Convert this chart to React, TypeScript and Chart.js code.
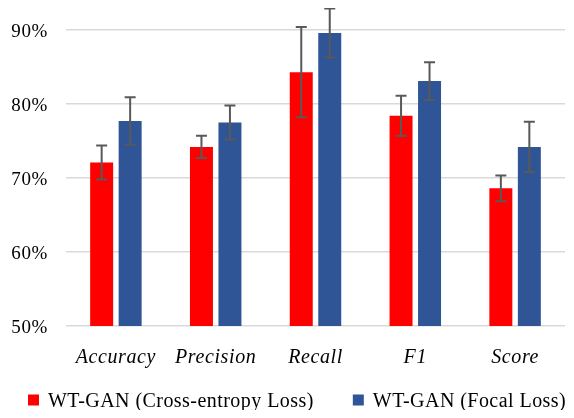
import React, { useEffect, useRef } from "react";
import { Chart, registerables } from "chart.js";

Chart.register(...registerables);

const categories = ["Accuracy", "Precision", "Recall", "F1", "Score"];
const crossEntropy = [72.1, 74.2, 84.3, 78.4, 68.6];
const crossEntropyErr = [2.3, 1.5, 6.1, 2.7, 1.75];
const focal = [77.7, 77.5, 89.6, 83.1, 74.2];
const focalErr = [3.2, 2.3, 3.3, 2.55, 3.4];
const seriesNames = ["WT-GAN (Cross-entropy Loss)", "WT-GAN (Focal Loss)"];
const yTicks = [50, 60, 70, 80, 90];

const errors = [crossEntropyErr, focalErr];
const FAMILY = "'Liberation Serif', 'Times New Roman', serif";
const SPACING = "0.6px";

const spacingPlugin = {
  id: "letterSpacing",
  beforeUpdate(chart: any) {
    chart.ctx.letterSpacing = SPACING;
  },
  beforeLayout(chart: any) {
    chart.ctx.letterSpacing = SPACING;
  },
  beforeDraw(chart: any) {
    chart.ctx.letterSpacing = SPACING;
  },
};

const legendPlugin = {
  id: "bottomLegend",
  afterDraw(chart: any) {
    const ctx = chart.ctx;
    ctx.save();
    ctx.letterSpacing = "0.45px";
    ctx.font = `20px ${FAMILY}`;
    ctx.textBaseline = "middle";
    ctx.textAlign = "left";
    const box = 11;
    const gapText = 9;
    const gapItem = 39;
    let x = 20;
    const y = 393;
    chart.data.datasets.forEach((ds: any) => {
      const w = ctx.measureText(ds.label).width;
      ctx.fillStyle = ds.backgroundColor;
      ctx.fillRect(x, y - box / 2 - 1, box, box);
      x += box + gapText;
      ctx.fillStyle = "#000";
      ctx.fillText(ds.label, x, y + 1);
      x += w + gapItem;
    });
    ctx.restore();
  },
};

const errorBarPlugin = {
  id: "errorBars",
  afterDatasetsDraw(chart: any) {
    const ctx = chart.ctx;
    const yScale = chart.scales.y;
    ctx.save();
    ctx.strokeStyle = "#595959";
    ctx.lineWidth = 2;
    chart.data.datasets.forEach((ds: any, di: number) => {
      const meta = chart.getDatasetMeta(di);
      meta.data.forEach((bar: any, i: number) => {
        const v = ds.data[i];
        const e = errors[di][i];
        const x = bar.x;
        const yTop = yScale.getPixelForValue(v + e);
        const yBot = yScale.getPixelForValue(v - e);
        const cap = 5.5;
        ctx.beginPath();
        ctx.moveTo(x, yTop);
        ctx.lineTo(x, yBot);
        ctx.moveTo(x - cap, yTop);
        ctx.lineTo(x + cap, yTop);
        ctx.moveTo(x - cap, yBot);
        ctx.lineTo(x + cap, yBot);
        ctx.stroke();
      });
    });
    ctx.restore();
  },
};

export default function App() {
  const ref = useRef<HTMLCanvasElement>(null);
  useEffect(() => {
    if (!ref.current) return;
    const chart = new Chart(ref.current, {
      type: "bar",
      data: {
        labels: categories,
        datasets: [
          {
            label: seriesNames[0],
            data: crossEntropy,
            backgroundColor: "#FF0000",
            categoryPercentage: 0.571,
            barPercentage: 0.807,
          },
          {
            label: seriesNames[1],
            data: focal,
            backgroundColor: "#2F5597",
            categoryPercentage: 0.571,
            barPercentage: 0.807,
          },
        ],
      },
      options: {
        animation: false,
        responsive: true,
        maintainAspectRatio: false,
        layout: { padding: { top: 22, right: 1, left: 0, bottom: 40 } },
        plugins: {
          tooltip: { enabled: false },
          legend: { display: false },
        },
        scales: {
          x: {
            grid: { display: false, drawTicks: false },
            border: { display: false },
            afterFit(scale: any) {
              scale.height = 44;
            },
            ticks: {
              color: "#000",
              padding: 20,
              maxRotation: 0,
              font: { family: FAMILY, size: 20, style: "italic" },
            },
          },
          y: {
            min: 50,
            max: 90,
            afterBuildTicks(scale: any) {
              scale.ticks = yTicks.map((v) => ({ value: v }));
            },
            afterFit(scale: any) {
              scale.width = 58;
              scale.paddingTop = 0;
              scale.paddingBottom = 0;
            },
            grid: { color: "#d9d9d9", lineWidth: 1.5, drawTicks: false },
            border: { display: false },
            ticks: {
              color: "#000",
              padding: 18,
              labelOffset: 2,
              font: { family: FAMILY, size: 19 },
              callback: (v: any) => v + "%",
            },
          },
        },
      },
      plugins: [spacingPlugin, errorBarPlugin, legendPlugin],
    });
    return () => chart.destroy();
  }, []);
  return (
    <div style={{ width: 558, height: 402, position: "relative" }}>
      <canvas ref={ref} />
    </div>
  );
}
